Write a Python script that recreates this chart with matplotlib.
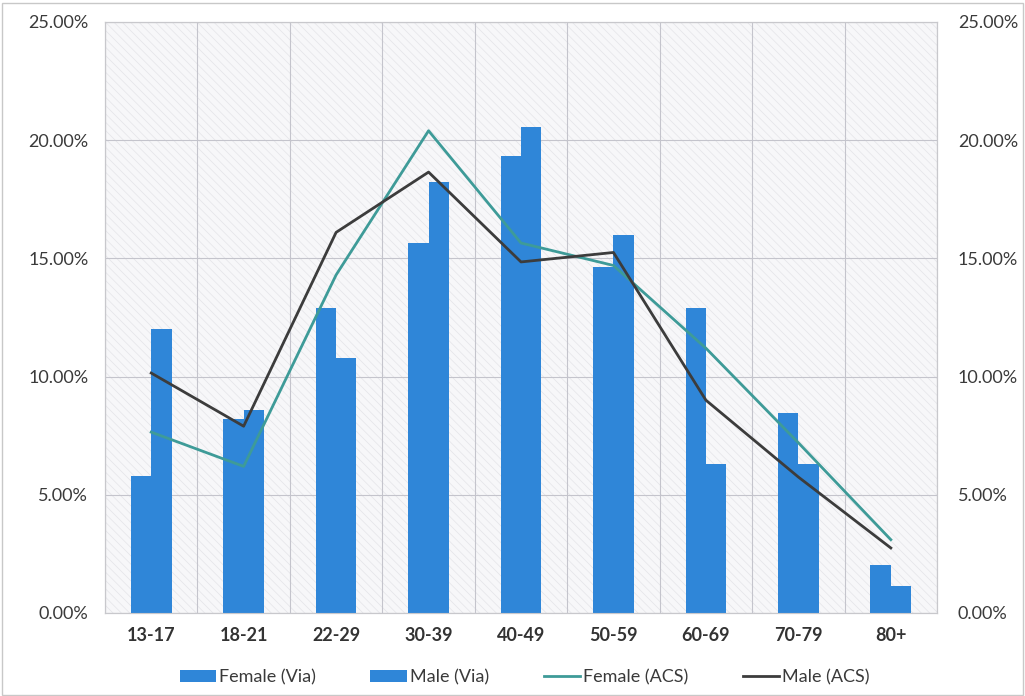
import numpy as np
import matplotlib
matplotlib.use("Agg")
import matplotlib.pyplot as plt
from matplotlib.patches import Rectangle
from matplotlib.ticker import FuncFormatter

plt.rcParams['font.family'] = ['Lato', 'DejaVu Sans']
plt.rcParams['hatch.linewidth'] = 0.5

# 数据
age_groups = ['13-17', '18-21', '22-29', '30-39', '40-49', '50-59', '60-69', '70-79', '80+']
female_via = [5.8, 8.2, 12.9, 15.65, 19.35, 14.65, 12.9, 8.45, 2.05]
male_via = [12.0, 8.6, 10.8, 18.25, 20.55, 16.0, 6.3, 6.3, 1.15]
female_acs = [7.65, 6.2, 14.3, 20.4, 15.65, 14.7, 11.2, 7.2, 3.1]
male_acs = [10.15, 7.9, 16.1, 18.65, 14.85, 15.25, 9.0, 5.75, 2.75]

bar_color = '#2F86D8'
teal = '#3E9B98'
dark = '#3C3C3C'
text_color = '#3a3a3a'

fig = plt.figure(figsize=(10.25, 6.96), dpi=100)
fig.patches.append(Rectangle((0.002, 0.002), 0.996, 0.993, transform=fig.transFigure,
                             fill=False, edgecolor='#c8c8c8', linewidth=1.0))

ax = fig.add_axes([0.1024, 0.1193, 0.8118, 0.8491])
ax.set_facecolor('#f7f7f9')
ax.add_patch(Rectangle((0, 0), 1, 1, transform=ax.transAxes, facecolor='none',
                       edgecolor='#e4e4e8', hatch='\\\\\\\\', linewidth=0, zorder=0))

x = np.arange(len(age_groups))
w = 0.22
ax.bar(x - w / 2, female_via, width=w, color=bar_color, label='Female (Via)', zorder=3)
ax.bar(x + w / 2, male_via, width=w, color=bar_color, label='Male (Via)', zorder=3)

ax2 = ax.twinx()
ax2.plot(x, female_acs, color=teal, lw=2.0, label='Female (ACS)', zorder=4)
ax2.plot(x, male_acs, color=dark, lw=2.0, label='Male (ACS)', zorder=5)

pct = FuncFormatter(lambda v, p: '%.2f%%' % v)
for a in (ax, ax2):
    a.set_ylim(0, 25)
    a.set_yticks(np.arange(0, 26, 5))
    a.yaxis.set_major_formatter(pct)
    a.set_xlim(-0.5, len(age_groups) - 0.5)
    for s in a.spines.values():
        s.set_color('#c8c8cc')
        s.set_linewidth(0.8)
    a.tick_params(length=0, labelsize=13, colors=text_color)

ax.tick_params(axis='y', pad=12)
ax2.tick_params(axis='y', pad=15)
ax.set_xticks(x)
ax.set_xticklabels(age_groups, fontweight='bold', color='#333333')
ax.tick_params(axis='x', pad=10)

ax.set_xticks(np.arange(-0.5, len(age_groups), 1), minor=True)
ax.tick_params(axis='x', which='minor', length=0)
ax.grid(True, which='minor', axis='x', color='#c4c4cc', lw=0.8, zorder=1)
ax.grid(True, which='major', axis='y', color='#c4c4cc', lw=0.8, zorder=1)
ax.grid(False, which='major', axis='x')
ax.set_axisbelow(True)

h1, l1 = ax.get_legend_handles_labels()
h2, l2 = ax2.get_legend_handles_labels()
fig.legend(h1 + h2, l1 + l2, loc='center', bbox_to_anchor=(0.512, 0.027), ncol=4,
           frameon=False, fontsize=13, handlelength=2.0, handleheight=0.65,
           handletextpad=0.2, columnspacing=3.0, labelcolor=text_color)

fig.savefig('out.png', dpi=100)
